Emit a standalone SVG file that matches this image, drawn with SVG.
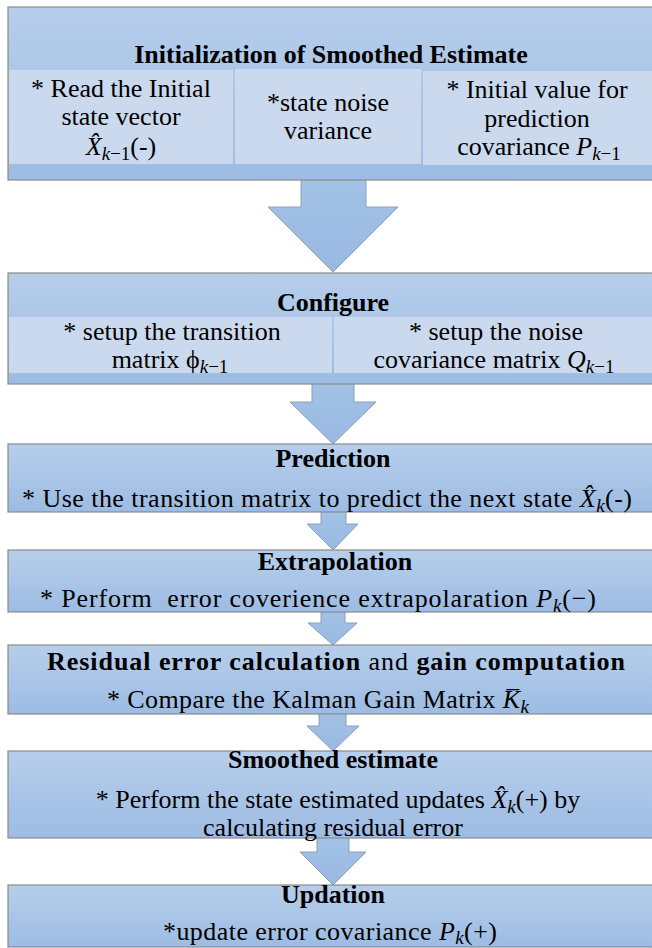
<svg xmlns="http://www.w3.org/2000/svg" width="652" height="948" viewBox="0 0 652 948">
<defs>
<linearGradient id="boxg" x1="0" y1="0" x2="0" y2="1">
<stop offset="0" stop-color="#B6CEEB"/>
<stop offset="1" stop-color="#9DBCE3"/>
</linearGradient>
<linearGradient id="arrg" x1="0" y1="0" x2="0" y2="1">
<stop offset="0" stop-color="#A3C2E7"/>
<stop offset="1" stop-color="#98B9E2"/>
</linearGradient>
</defs>
<style>
.box{fill:url(#boxg);stroke:#8A8A8A;stroke-width:1.2}
.cell{fill:#CAD9EE}
.arr{fill:url(#arrg);stroke:#8E9FB6;stroke-width:1}
text{font-size:26px;fill:#000;text-anchor:middle}
.t{font-weight:bold}
.m{font-style:italic}
.s{font-size:19px}
.pre{white-space:pre}
</style>
<rect width="652" height="948" fill="#FFFFFF"/>
<g id="connectors">
<polygon class="arr" points="301,177 366,177 366,207 398,207 333,272 268,207 301,207"/>
<polygon class="arr" points="312,381 354,381 354,402 376,402 333,444 290,402 312,402"/>
<polygon class="arr" points="321,509 346,509 346,524 358,524 333,550 307,524 321,524"/>
<polygon class="arr" points="321,609 345,609 345,623 357,623 333,645 308,623 321,623"/>
<polygon class="arr" points="319,711 346,711 346,726 359,726 333,751 307,726 319,726"/>
<polygon class="arr" points="317,835 349,835 349,852 366,852 333,885 300,852 317,852"/>
</g>
<g font-family="Liberation Serif, Times New Roman, Times, Tinos, Nimbus Roman, Noto Serif, DejaVu Serif, serif">
<g id="init">
<rect class="box" x="8" y="7" width="660" height="173"/>
<rect class="cell" x="9" y="70" width="224" height="94"/>
<rect class="cell" x="235" y="69" width="186" height="95"/>
<rect class="cell" x="423" y="71" width="240" height="94"/>
<text class="t" x="331" y="63">Initialization of Smoothed Estimate</text>
<text x="121" y="97">* Read the Initial</text>
<text x="121" y="125">state vector</text>
<text x="121" y="155"><tspan class="m">X̂</tspan><tspan class="m s" dy="5">k</tspan><tspan class="s">−1</tspan><tspan dy="-5">(-)</tspan></text>
<text x="328" y="111">*state noise</text>
<text x="328" y="139">variance</text>
<text x="537" y="98">* Initial value for</text>
<text x="537" y="127">prediction</text>
<text x="539" y="155">covariance <tspan class="m">P</tspan><tspan class="m s" dy="5">k</tspan><tspan class="s">−1</tspan></text>
</g>
<g id="configure">
<rect class="box" x="8" y="273" width="660" height="111"/>
<rect class="cell" x="9" y="317" width="323" height="56"/>
<rect class="cell" x="334" y="317" width="330" height="56"/>
<text class="t" x="333" y="311">Configure</text>
<text x="172" y="340">* setup the transition</text>
<text x="170" y="368">matrix ϕ<tspan class="m s" dy="5">k</tspan><tspan class="s">−1</tspan></text>
<text x="496" y="340">* setup the noise</text>
<text x="494" y="368">covariance matrix <tspan class="m">Q</tspan><tspan class="m s" dy="5">k</tspan><tspan class="s">−1</tspan></text>
</g>
<g id="prediction">
<rect class="box" x="8" y="444" width="660" height="68"/>
<text class="t" x="333" y="467">Prediction</text>
<text x="327" y="507" textLength="610">* Use the transition matrix to predict the next state <tspan class="m">X̂</tspan><tspan class="m s" dy="5">k</tspan><tspan dy="-5">(-)</tspan></text>
</g>
<g id="extrapolation">
<rect class="box" x="8" y="550" width="660" height="62"/>
<text class="t" x="335" y="570">Extrapolation</text>
<text class="pre" x="318" y="607" textLength="556">* Perform  error coverience extrapolaration <tspan class="m">P</tspan><tspan class="m s" dy="5">k</tspan><tspan dy="-5">(−)</tspan></text>
</g>
<g id="gain">
<rect class="box" x="8" y="645" width="660" height="69"/>
<text x="336" y="670" textLength="578"><tspan class="t">Residual error calculation</tspan> and <tspan class="t">gain computation</tspan></text>
<text x="318" y="708" textLength="422">* Compare the Kalman Gain Matrix <tspan class="m">K̅</tspan><tspan class="m s" dy="5">k</tspan></text>
</g>
<g id="smoothed">
<rect class="box" x="8" y="751" width="660" height="87"/>
<text class="t" x="333" y="768">Smoothed estimate</text>
<text x="338" y="808">* Perform the state estimated updates <tspan class="m">X̂</tspan><tspan class="m s" dy="5">k</tspan><tspan dy="-5">(+) by</tspan></text>
<text x="333" y="836">calculating residual error</text>
</g>
<g id="updation">
<rect class="box" x="8" y="885" width="660" height="62"/>
<text class="t" x="333" y="903">Updation</text>
<text x="330" y="940" textLength="334">*update error covariance <tspan class="m">P</tspan><tspan class="m s" dy="4">k</tspan><tspan dy="-4">(+)</tspan></text>
</g>
</g>
</svg>
